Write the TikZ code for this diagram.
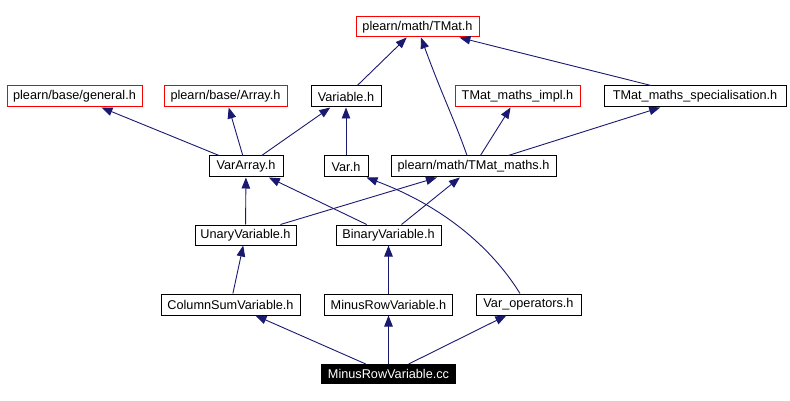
\documentclass[tikz,border=0pt]{standalone}
\usepackage{fontspec}
\setmainfont{Liberation Sans}
\usetikzlibrary{arrows.meta}
\definecolor{edgecol}{HTML}{191970}
\definecolor{redb}{HTML}{FF0000}
\tikzset{
  box/.style={draw=black, line width=1pt, inner sep=0pt, minimum height=21pt, fill=white,
    font=\fontsize{12.7}{14}\selectfont},
  redbox/.style={box, draw=redb},
  rootbox/.style={box, fill=black, text=white},
  dep/.style={draw=edgecol, line width=0.9pt, -{Triangle[length=11pt,width=8.5pt]}},
}
\begin{document}
\begin{tikzpicture}[x=1pt,y=-1pt]
\useasboundingbox (0,0) rectangle (790,401);
\node[redbox, minimum width=123pt, minimum height=20pt] (tmat) at (417.5,27) {plearn/math/TMat.h};
\node[redbox, minimum width=135pt] (general) at (74.5,96.5) {plearn/base/general.h};
\node[redbox, minimum width=123pt] (array) at (225.5,96.5) {plearn/base/Array.h};
\node[box, minimum width=70pt] (variable) at (346,96.5) {Variable.h};
\node[redbox, minimum width=125pt] (impl) at (517.5,96.5) {TMat\_maths\_impl.h};
\node[box, minimum width=182pt] (spec) at (695,96.5) {TMat\_maths\_specialisation.h};
\node[box, minimum width=74pt] (vararray) at (246,166.5) {VarArray.h};
\node[box, minimum width=44pt] (var) at (346,166.5) {Var.h};
\node[box, minimum width=165pt] (tmaths) at (473.5,166.5) {plearn/math/TMat\_maths.h};
\node[box, minimum width=101pt, minimum height=20pt] (unary) at (245.5,235) {UnaryVariable.h};
\node[box, minimum width=105pt, minimum height=20pt] (binary) at (388.5,235) {BinaryVariable.h};
\node[box, minimum width=139pt] (colsum) at (230.5,304.5) {ColumnSumVariable.h};
\node[box, minimum width=128pt] (minush) at (388.5,304.5) {MinusRowVariable.h};
\node[box, minimum width=105pt] (varop) at (528.5,304.5) {Var\_operators.h};
\node[rootbox, minimum width=134pt, minimum height=19pt] (cc) at (388.5,374) {MinusRowVariable.cc};

\draw[dep] (variable) -- (tmat);
\draw[dep] (spec) -- (tmat);
\draw[dep] ([xshift=-6.5pt]tmaths.north) .. controls (455,121) and (442,95) .. ([xshift=3.5pt]tmat.south);
\draw[dep] (vararray) -- (general);
\draw[dep] (vararray) -- (array);
\draw[dep] (vararray) -- (variable);
\draw[dep] (var) -- (variable);
\draw[dep] (tmaths) -- (impl);
\draw[dep] (tmaths) -- (spec);
\draw[dep] (unary) -- (vararray);
\draw[dep] (unary) -- (tmaths);
\draw[dep] (binary) -- (vararray);
\draw[dep] (binary) -- (tmaths);
\draw[dep] ([xshift=-8.5pt]varop.north) .. controls (490,245) and (440,205) .. ([xshift=-2pt]var.south east);
\draw[dep] (colsum) -- (unary);
\draw[dep] (minush) -- (binary);
\draw[dep] (cc) -- (colsum);
\draw[dep] (cc) -- (minush);
\draw[dep] (cc) -- (varop);
\end{tikzpicture}
\end{document}
